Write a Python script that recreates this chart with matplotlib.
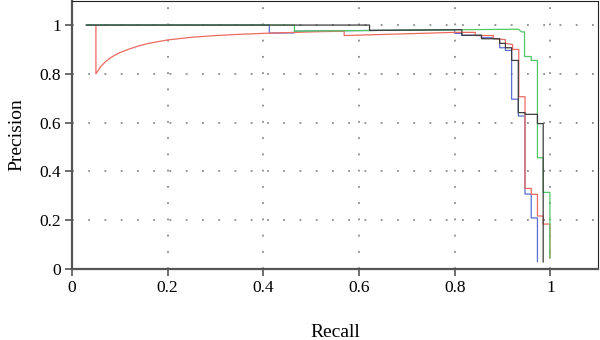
import matplotlib.pyplot as plt
from matplotlib.ticker import FixedLocator

# precision-recall curves, vertices of each staircase (recall, precision)
red_recall = [0.05, 0.05, 0.055, 0.06, 0.07, 0.08, 0.09, 0.10, 0.12, 0.14, 0.16, 0.18,
              0.20, 0.25, 0.30, 0.35, 0.40, 0.45, 0.50, 0.569, 0.569, 0.80, 0.843, 0.843,
              0.881, 0.881, 0.906, 0.906, 0.921, 0.921, 0.934, 0.934, 0.947, 0.947,
              0.96, 0.96, 0.973, 0.973, 0.985, 0.985, 0.999, 0.999]
red_precision = [1.0, 0.80, 0.815, 0.83, 0.85, 0.865, 0.877, 0.887, 0.902, 0.915, 0.925, 0.932,
                 0.939, 0.95, 0.957, 0.962, 0.966, 0.969, 0.972, 0.975, 0.957, 0.97, 0.97, 0.957,
                 0.957, 0.945, 0.94, 0.925, 0.92, 0.90, 0.90, 0.706, 0.706, 0.33,
                 0.33, 0.306, 0.306, 0.217, 0.217, 0.184, 0.184, 0.044]

blue_recall = [0.03, 0.4125, 0.4125, 0.465, 0.465, 0.80, 0.80, 0.815, 0.815, 0.856, 0.856,
               0.881, 0.881, 0.894, 0.894, 0.906, 0.906, 0.919, 0.919, 0.933, 0.933,
               0.947, 0.947, 0.96, 0.96, 0.973, 0.973]
blue_precision = [1.0, 1.0, 0.967, 0.968, 0.975, 0.981, 0.966, 0.966, 0.958, 0.958, 0.948,
                  0.948, 0.944, 0.944, 0.907, 0.907, 0.896, 0.896, 0.696, 0.696, 0.627,
                  0.627, 0.307, 0.307, 0.209, 0.209, 0.03]

green_recall = [0.03, 0.465, 0.465, 0.933, 0.94, 0.946, 0.946, 0.96, 0.96, 0.973, 0.973,
                0.985, 0.985, 0.999, 0.999]
green_precision = [1.0, 1.0, 0.975, 0.983, 0.972, 0.972, 0.871, 0.871, 0.855, 0.855, 0.456,
                   0.456, 0.314, 0.314, 0.045]

black_recall = [0.03, 0.622, 0.622, 0.815, 0.815, 0.856, 0.856, 0.894, 0.894, 0.906, 0.906,
                0.919, 0.919, 0.933, 0.933, 0.947, 0.947, 0.973, 0.973, 0.985, 0.985]
black_precision = [1.0, 1.0, 0.978, 0.981, 0.958, 0.958, 0.944, 0.944, 0.925, 0.925, 0.907,
                   0.907, 0.855, 0.855, 0.641, 0.641, 0.634, 0.634, 0.596, 0.596, 0.029]

ticks = [0, 0.2, 0.4, 0.6, 0.8, 1.0]
tick_labels = ['0', '0.2', '0.4', '0.6', '0.8', '1']

plt.rcParams['font.family'] = ['Liberation Serif', 'DejaVu Serif']
plt.rcParams['font.size'] = 12.5

fig = plt.figure(figsize=(6, 3.4), dpi=100)
ax = fig.add_axes([0.12, 0.209, 0.877, 0.789])

ax.plot(blue_recall, blue_precision, color='#5a6ed0', lw=0.9)
ax.plot(red_recall, red_precision, color='#ee6a60', lw=0.9)
ax.plot(green_recall, green_precision, color='#52c765', lw=0.9)
ax.plot(black_recall, black_precision, color='#3c3c3c', lw=0.9)

ax.set_xlim(0, 1.1)
ax.set_ylim(0, 1.1)
ax.xaxis.set_major_locator(FixedLocator(ticks))
ax.yaxis.set_major_locator(FixedLocator(ticks))
ax.set_xticklabels(tick_labels)
ax.set_yticklabels(tick_labels)
ax.tick_params(direction='out', length=5, width=1.2, color='#555555', pad=3)

ax.grid(True, color='#8c8c8c', linestyle=(0, (1, 8)), lw=1.3)
ax.set_axisbelow(True)

for side in ['left', 'bottom']:
    ax.spines[side].set_color('#555555')
    ax.spines[side].set_linewidth(1.6)
for side in ['top', 'right']:
    ax.spines[side].set_color('#222222')
    ax.spines[side].set_linewidth(0.8)

ax.set_xlabel('Recall', fontsize=14, labelpad=20)
ax.set_ylabel('Precision', fontsize=14, labelpad=10)

fig.savefig('out.png', dpi=100)
